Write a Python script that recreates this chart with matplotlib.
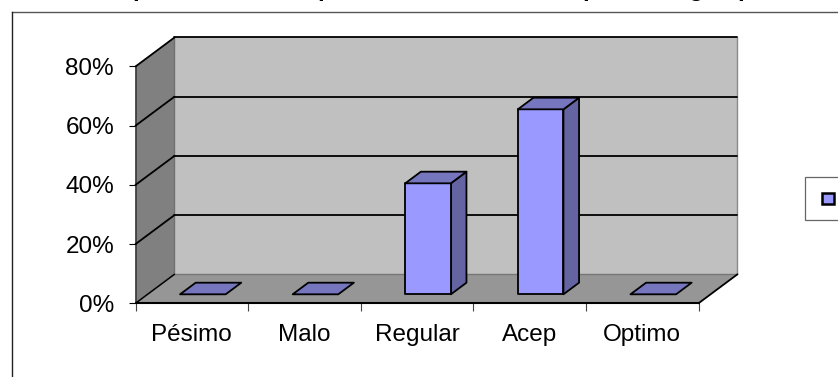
import matplotlib
matplotlib.use('Agg')
from matplotlib import pyplot as plt
from matplotlib.patches import Polygon, Rectangle
from matplotlib.lines import Line2D

plt.rcParams['font.family'] = ['Liberation Sans', 'DejaVu Sans']

categories = ['Pésimo', 'Malo', 'Regular', 'Acep', 'Optimo']
values = [0, 0, 37.5, 62.5, 0]
y_ticks = [0, 20, 40, 60, 80]

# heading sits above the top edge, only the descenders stay on the canvas
heading_letters = ['p', 'p', 'p', 'g', 'p']
heading_x = [132, 317, 582, 689, 737]

W, H = 838, 377
BAR_W = 0.405
BAR_C = 0.491
# oblique depth of the 3D box, per unit of z
DX, DY = 0.346, 9.8
Z0, Z1 = 0.31, 0.71

WALL = '#c0c0c0'
SIDE = '#808080'
FLOOR = '#969696'
BAR_FRONT = '#9999ff'
BAR_TOP = '#7676bf'
BAR_SIDE = '#6464a2'


def fx(px):
    return px / W


def fy(py):
    return 1 - py / H


def proj(x, y, z):
    return (x + DX * z, y + DY * z)


def face(pts, color, z, edge='none', lw=0):
    ax.add_patch(Polygon([proj(*p) for p in pts], closed=True, facecolor=color,
                         edgecolor=edge, linewidth=lw, zorder=z, clip_on=False,
                         joinstyle='round'))


def line(a, b, color='black', lw=1.3, z=2):
    pa, pb = proj(*a), proj(*b)
    ax.plot([pa[0], pb[0]], [pa[1], pb[1]], color=color, lw=lw, zorder=z,
            clip_on=False, solid_capstyle='round')


fig = plt.figure(figsize=(W / 100, H / 100), dpi=100)
ax = fig.add_axes([fx(135.5), fy(303.3), (698.5 - 135.5) / W, (303.3 - 66.5) / H])
ax.set_xlim(0, 5)
ax.set_ylim(0, 80)
ax.patch.set_visible(False)
for s in ax.spines.values():
    s.set_visible(False)

# walls and floor
n = len(categories)
face([(0, 0, 1), (n, 0, 1), (n, 80, 1), (0, 80, 1)], WALL, 1)
face([(0, 0, 0), (0, 0, 1), (0, 80, 1), (0, 80, 0)], SIDE, 1)
face([(0, 0, 0), (n, 0, 0), (n, 0, 1), (0, 0, 1)], FLOOR, 1)

line((n, 0, 1), (n, 80, 1), color='#8a8a8a', lw=1.0)
line((0, 0, 1), (n, 0, 1), color='#777777', lw=1.0)
line((0, 0, 1), (0, 80, 1), color='#707070', lw=1.0)
line((0, 0, 0), (0, 80, 0), color='#333333', lw=1.1)

# gridlines run along the left wall and the back wall
for v in y_ticks[1:]:
    line((0, v, 0), (0, v, 1))
    line((0, v, 1), (n, v, 1))
line((0, 0, 0), (0, 0, 1), lw=1.1)
line((0, 0, 0), (n, 0, 0), lw=1.5, z=3)
line((n, 0, 0), (n, 0, 1), lw=1.3, z=3)

# bars
for i, val in enumerate(values):
    left = i + BAR_C - BAR_W / 2
    right = i + BAR_C + BAR_W / 2
    if val > 0:
        face([(right, 0, Z0), (right, 0, Z1), (right, val, Z1), (right, val, Z0)],
             BAR_SIDE, 4, 'black', 1.3)
        face([(left, 0, Z0), (right, 0, Z0), (right, val, Z0), (left, val, Z0)],
             BAR_FRONT, 5, 'black', 1.3)
    face([(left, val, Z0), (right, val, Z0), (right, val, Z1), (left, val, Z1)],
         BAR_TOP, 5, 'black', 1.3)

# axes ticks and labels
ax.set_yticks(y_ticks)
ax.set_yticklabels([str(v) + '%' for v in y_ticks], fontsize=17.5)
ax.set_xticks(range(n + 1))
ax.set_xticklabels([])
ax.set_xticks([i + 0.5 for i in range(n)], minor=True)
ax.set_xticklabels(categories, minor=True, fontsize=17.5)
ax.tick_params(axis='y', length=5.4, width=0.8, pad=10, color='black')
ax.tick_params(axis='x', which='major', length=5.4, width=0.8, color='#444444')
ax.tick_params(axis='x', which='minor', length=0, pad=15)

# outer chart frame, right and bottom run off the canvas
fig.add_artist(Line2D([fx(11.5), fx(838)], [fy(12), fy(12)], color='#555555', lw=1.0))
fig.add_artist(Line2D([fx(11.5), fx(11.5)], [fy(12), fy(377)], color='#222222', lw=1.0))

# legend box with the single swatch
fig.add_artist(Rectangle((fx(804.5), fy(219.5)), 60 / W, 42.5 / H, facecolor='white',
                         edgecolor='#666666', linewidth=0.9, transform=fig.transFigure))
fig.add_artist(Rectangle((fx(821.5), fy(204)), 12 / W, 11.5 / H, facecolor=BAR_FRONT,
                         edgecolor='black', linewidth=1.8, transform=fig.transFigure))

for ch, x in zip(heading_letters, heading_x):
    fig.text(fx(x), fy(-3.9), ch, fontsize=17.5, fontweight='bold', ha='left', va='baseline')

fig.savefig('out.png', dpi=100)
